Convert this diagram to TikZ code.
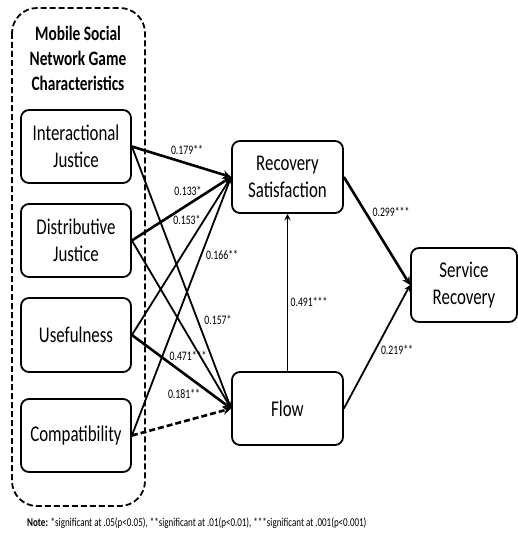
\documentclass[tikz,border=0pt]{standalone}
\usepackage{fontspec}
\setmainfont{Carlito}[FakeStretch=0.75]
\begin{document}
\begin{tikzpicture}[x=1pt, y=-1pt,
    box/.style={draw, line width=1.8pt, rounded corners=8pt, align=center,
        inner sep=0pt, font=\fontsize{22.5}{27}\selectfont},
    coef/.style={inner sep=0pt, font=\fontsize{13}{15}\selectfont},
    path/.style={-stealth, line width=1.8pt},
    strong/.style={-stealth, line width=2.6pt},
    longdash/.style={dash pattern=on 6pt off 3pt}]
    \useasboundingbox (0,0) rectangle (518,535);
    % group frame
    \draw[longdash, line width=1.8pt, rounded corners=25pt] (12,8) rectangle (145,506);
    \node[align=center, font=\bfseries\fontsize{20.5}{25}\selectfont] (title) at (78,58)
        {Mobile Social\\Network Game\\Characteristics};
    % constructs
    \node[box, minimum width=110pt, minimum height=73pt] (inter) at (76,146.5) {Interactional\\Justice};
    \node[box, minimum width=110pt, minimum height=73pt] (distr) at (76,240.5) {Distributive\\Justice};
    \node[box, minimum width=110pt, minimum height=74pt] (useful) at (76,335) {Usefulness};
    \node[box, minimum width=110pt, minimum height=73pt] (compat) at (76,435.5) {Compatibility};
    \node[box, minimum width=111pt, minimum height=72pt] (recsat) at (287.5,177) {Recovery\\Satisfaction};
    \node[box, minimum width=111pt, minimum height=73pt] (flow) at (287.5,408.5) {Flow};
    \node[box, minimum width=106pt, minimum height=74pt] (servrec) at (464,285) {Service\\Recovery};
    % paths
    \draw[strong] (inter.east) -- (recsat.west);
    \draw[path] (inter.east) -- (flow.west);
    \draw[strong] (distr.east) -- (recsat.west);
    \draw[path] (distr.east) -- (flow.west);
    \draw[path] (useful.east) -- (recsat.west);
    \draw[strong] (useful.east) -- (flow.west);
    \draw[path] (compat.east) -- (recsat.west);
    \draw[strong, longdash] (compat.east) -- (flow.west);
    \draw[path] (flow.north) -- (recsat.south);
    \draw[strong] (recsat.east) -- (servrec.west);
    \draw[path] (flow.east) -- (servrec.west);
    % coefficients
    \node[coef] (c1) at (187,150) {0.179**};
    \node[coef] (c2) at (188,191) {0.133*};
    \node[coef] (c3) at (187,220) {0.153*};
    \node[coef] (c4) at (222,255) {0.166**};
    \node[coef] (c5) at (218,320) {0.157*};
    \node[coef] (c6) at (188,356) {0.471***};
    \node[coef] (c7) at (184,394) {0.181**};
    \node[coef] (c8) at (309,302) {0.491***};
    \node[coef] (c9) at (391,212) {0.299***};
    \node[coef] (c10) at (397,350) {0.219**};
    \node[anchor=west, inner sep=0pt, font=\fontsize{12}{14}\selectfont] (note) at (27,523)
        {\textbf{Note:} *significant at .05(p<0.05), **significant at .01(p<0.01), ***significant at .001(p<0.001)};
\end{tikzpicture}
\end{document}
